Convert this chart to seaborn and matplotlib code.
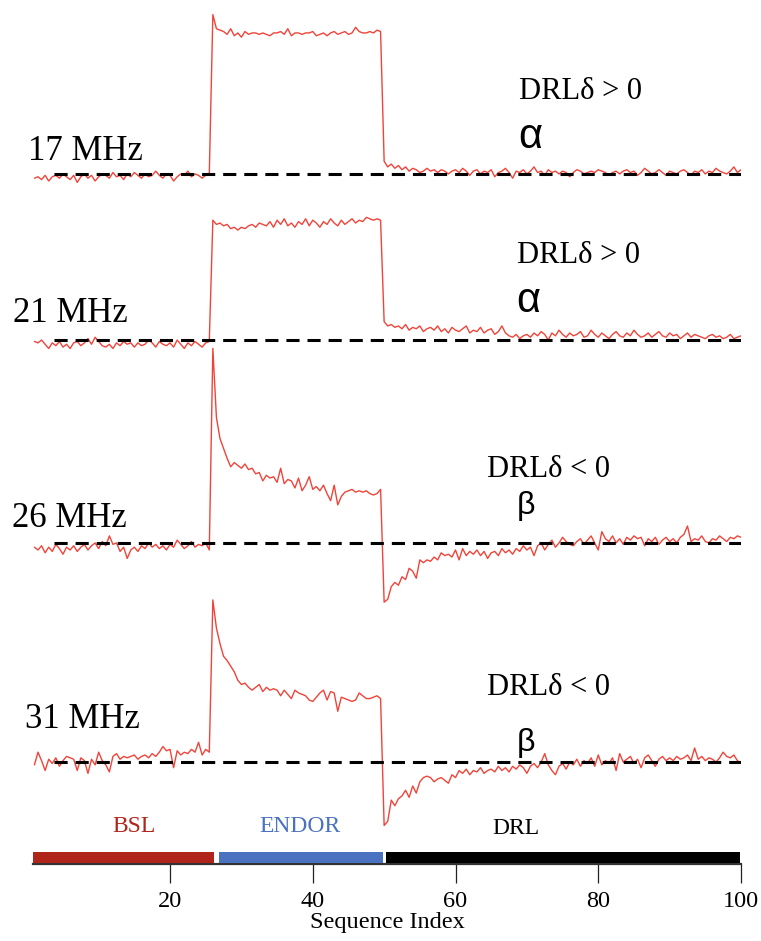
import numpy as np
import pandas as pd
import matplotlib
matplotlib.use("Agg")
import matplotlib.pyplot as plt
import seaborn as sns

# ---------------------------------------------------------------------------
# Data
# ---------------------------------------------------------------------------
freq_labels = ["17 MHz", "21 MHz", "26 MHz", "31 MHz"]
drl_signs = ["DRLδ > 0", "DRLδ > 0", "DRLδ < 0", "DRLδ < 0"]
state_labels = ["α", "α", "β", "β"]

# Pulse-sequence segments: baseline, ENDOR pulse, delayed relaxation
seg_names = ["BSL", "ENDOR", "DRL"]
seg_spans = [(0.8, 26.2), (26.8, 49.9), (50.3, 99.8)]
# sampled sequence-index range of each segment (0.5 index step)
seg_index = [(1.0, 25.5), (26.0, 49.5), (50.0, 100.0)]

# Signal (arb. units, 17 MHz plateau ~ 100) per frequency and segment
bsl_17 = [-3, -2, -4, -1, -5, -2, -1, -3, 0, -2, -4, -1, -6, -2, 0, -3, -1, -5,
          -2, 0, -1, -3, 1, -2, -1, -4, 0, -2, 1, -1, -3, 0, -2, -1, 2, -1, -3,
          0, -1, -5, -2, 0, -1, 2, -2, 0, -1, -3, -1, 0]
endor_17 = [113, 103, 102, 101, 99, 103, 98, 100, 97, 101, 99, 100, 100, 99,
            100, 99, 98, 100, 100, 101, 99, 103, 98, 100, 100, 99, 100, 100,
            101, 98, 99, 100, 98, 100, 101, 99, 100, 101, 99, 100, 104, 101,
            100, 100, 101, 100, 102, 101]
drl_17 = [9, 5, 7, 4, 6, 3, 5, 2, 4, 3, 1, 2, 4, 2, 3, 1, 3, 2, 0, 2, 3, 1, 4,
          2, -1, 2, 3, 0, 2, 1, 3, -2, 1, 2, 4, 1, -3, 2, 1, 3, 0, 2, 5, 1, 2,
          -1, 3, 1, 2, 0, 2, 1, -2, 1, 3, 2, 0, 1, 2, 1, 3, 2, 1, -1, 1, 2, 0,
          2, 3, 1, 2, -1, 1, 4, 2, 0, 1, 3, 1, -1, 2, 1, 0, 2, 3, 1, -1, 2, 1,
          3, 0, 2, 1, 4, 2, 1, 0, 2, 5, 1, 3]

bsl_21 = [-1, -2, 0, -3, -6, -2, -4, -1, -5, -3, -6, -2, -1, -4, -2, 1, -3, 2,
          -1, -4, -5, -3, -6, -2, -4, -1, -3, -2, -5, -2, -4, -3, 0, -2, -5,
          -1, -3, -4, -2, -5, 0, -3, -6, -2, -4, -1, -3, -5, -2, -1]
endor_21 = [85, 82, 83, 81, 82, 79, 80, 78, 80, 79, 81, 82, 80, 83, 82, 81, 84,
            80, 85, 82, 86, 81, 83, 80, 84, 82, 86, 81, 85, 83, 80, 84, 82, 86,
            83, 81, 85, 82, 84, 86, 83, 85, 84, 87, 86, 85, 86, 85]
drl_21 = [13, 10, 11, 9, 10, 8, 11, 7, 9, 8, 10, 6, 8, 9, 7, 10, 6, 8, 5, 9, 7,
          6, 8, 10, 5, 7, 6, 9, 5, 7, 8, 4, 6, 10, 5, 3, 2, 4, 1, 3, 4, 2, 5,
          3, 6, 4, 0, 5, 3, 7, 4, 2, 5, 3, 4, 6, 2, 3, 7, 4, 2, 5, 3, 1, 4, 6,
          3, 2, 5, 3, 7, 4, 2, 3, 5, 2, 4, 6, 3, 2, 5, 3, 4, 1, 3, 5, 2, 4, 3,
          2, 1, 3, 4, 2, 3, 1, 2, 4, 1, 2, 3]

bsl_26 = [-3, -5, -2, -7, -3, -6, -1, -4, -8, -3, -5, -2, -6, -3, -1, -5, -2, 0,
          -4, 1, -2, 5, -1, 0, -6, -3, -11, -5, -3, -6, -2, -4, 0, -3, -1, -4,
          -2, -5, -1, -3, 2, -1, -4, -2, 1, -3, -1, -2, 0, -5]
endor_26 = [138, 89, 74, 67, 60, 54, 57, 55, 53, 56, 52, 53, 49, 50, 44, 48, 46,
            47, 43, 53, 42, 45, 44, 39, 46, 37, 41, 47, 38, 40, 37, 41, 35, 30,
            41, 27, 33, 36, 37, 38, 36, 37, 36, 37, 35, 34, 35, 38]
drl_26 = [-42, -40, -31, -28, -30, -24, -26, -18, -20, -25, -12, -14, -12, -13,
          -10, -12, -7, -9, -8, -10, -5, -12, -4, -9, -6, -8, -5, -9, -6, -11,
          -7, -6, -9, -4, -7, -5, -8, -4, -6, -2, -5, -3, -9, -2, 0, -5, -1, 2,
          -3, 0, 4, 1, -1, -2, 1, 3, -1, 2, 5, 0, -5, 8, 3, 1, 5, 0, 3, -1, 4,
          2, 5, 3, 4, -2, 3, 1, 4, -1, 2, 4, 1, 3, 0, 4, 6, 12, 1, 3, 2, 5, 1,
          0, 3, 2, 5, 3, 1, 4, 3, 5, 4]

bsl_31 = [-2, 7, 1, -6, 2, -1, 3, -3, 1, 4, 3, 2, -6, 3, 1, -8, 2, -2, 7, 1, -2,
          -7, 4, 6, 2, 4, 3, 4, 5, 2, 4, 5, 3, 6, 4, 7, 11, 8, 9, -4, 8, 5, 7, 6,
          9, 7, 14, 5, 9, 7]
endor_31 = [115, 95, 84, 75, 72, 68, 64, 58, 55, 56, 53, 51, 53, 55, 50, 53, 51,
            52, 51, 47, 51, 48, 45, 51, 49, 48, 47, 44, 43, 46, 49, 51, 44, 50,
            49, 36, 46, 45, 44, 43, 44, 49, 47, 45, 45, 46, 47, 45]
drl_31 = [-45, -42, -27, -31, -26, -24, -20, -25, -17, -22, -14, -11, -10, -11,
          -14, -12, -11, -13, -15, -9, -11, -6, -8, -5, -9, -6, -7, -4, -8, -6,
          -5, -7, -3, -6, -4, -7, -3, -5, -2, -4, -8, -3, -1, -4, 0, 6, -2, -6,
          -9, -3, -1, -5, 0, -2, 2, -3, 1, -1, 3, -3, 5, -2, 1, -1, 3, -6, 6, 0,
          2, 4, -1, 2, -4, 3, 5, 1, -3, 2, 4, 1, 3, 1, 4, 2, 3, 5, 1, 10, 2, 4,
          1, 3, 2, 0, 3, 7, 4, 3, 5, 1, -1]

traces = {
    "17 MHz": (bsl_17, endor_17, drl_17),
    "21 MHz": (bsl_21, endor_21, drl_21),
    "26 MHz": (bsl_26, endor_26, drl_26),
    "31 MHz": (bsl_31, endor_31, drl_31),
}

# ---------------------------------------------------------------------------
# Layout / style
# ---------------------------------------------------------------------------
W, H = 761, 941
trace_color = "#F0443A"
seg_colors = ["#B0241B", "#4A72C0", "#000000"]
seg_text_colors = ["#B0241B", "#4A72C0", "#000000"]
baselines = [489.4, 371.6, 227.7, 72.3]      # vertical offset of each trace
dash_start = 3.8

sns.set_theme(style="white")
plt.rcParams["font.family"] = ["Liberation Serif", "DejaVu Serif"]
plt.rcParams["text.color"] = "black"
plt.rcParams["axes.labelcolor"] = "black"
plt.rcParams["xtick.color"] = "black"
plt.rcParams["xtick.labelcolor"] = "black"

rows = []
for (name, segs), base in zip(traces.items(), baselines):
    for (lo, hi), vals in zip(seg_index, segs):
        xs = np.linspace(lo, hi, len(vals))
        for x, v in zip(xs, vals):
            rows.append({"trace": name, "idx": x, "y": v + base})
df = pd.DataFrame(rows)

fig = plt.figure(figsize=(W / 100, H / 100), dpi=100)
ax = fig.add_axes([33 / W, 1 - 864 / H, (741 - 33) / W, 864 / H])

sns.lineplot(data=df, x="idx", y="y", units="trace", estimator=None,
             color=trace_color, linewidth=1.0, sort=False, ax=ax, zorder=2)

for base in baselines:
    ax.plot([dash_start, 100], [base, base], color="black", lw=2.2,
            linestyle=(0, (4.3, 2.6)), zorder=3, solid_capstyle="butt")

# segment bars along the axis
for (lo, hi), c in zip(seg_spans, seg_colors):
    ax.barh(y=4.6, width=hi - lo, left=lo, height=7.8, color=c,
            edgecolor="none", zorder=3)

ax.set_xlim(0.8, 100)
ax.set_ylim(0, 864 / 1.41)
ax.set_yticks([])
ax.set_xticks([20, 40, 60, 80, 100])
ax.tick_params(axis="x", direction="out", length=13.5, width=0.9,
               color="#222222", labelsize=17.5, pad=6, bottom=True,
               labelcolor="black")
for s in ["top", "left", "right"]:
    ax.spines[s].set_visible(False)
ax.spines["bottom"].set_color("#333333")
ax.spines["bottom"].set_linewidth(1.6)
ax.set_xlabel("Sequence Index", fontsize=17.5, labelpad=0, color="black")
ax.set_ylabel("")


def fpos(px, py):
    return px / W, 1 - py / H


# frequency labels
for lab, (px, py) in zip(freq_labels, [(28, 160), (13, 322), (12, 527), (25, 728)]):
    fig.text(*fpos(px, py), lab, fontsize=25, ha="left", va="baseline",
             color="black")

# DRL sign labels
for lab, (px, py) in zip(drl_signs, [(519, 99), (517, 263), (487, 477), (487, 695)]):
    fig.text(*fpos(px, py), lab, fontsize=22, ha="left", va="baseline",
             color="black")

# spin-state labels
for lab, (px, py), fs in zip(state_labels,
                             [(518, 148), (516, 312), (517, 514), (517, 751)],
                             [30, 30, 23, 23]):
    fig.text(*fpos(px, py), lab, fontsize=fs, ha="left", va="baseline",
             color="black", family=["Liberation Sans", "DejaVu Sans"])

# segment names
for lab, c, (px, py) in zip(seg_names, seg_text_colors,
                            [(134, 826), (300, 826), (516, 829)]):
    fig.text(*fpos(px, py), lab, fontsize=17, color=c, ha="center", va="center")

fig.savefig("out.png", dpi=100)
